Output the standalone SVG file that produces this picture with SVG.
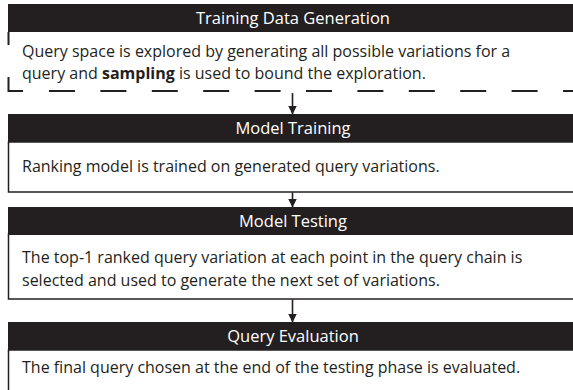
<svg xmlns="http://www.w3.org/2000/svg" width="573" height="390" viewBox="0 0 573 390">
<style>
.hdr{fill:#231f20}
.body{fill:#fff;stroke:#231f20;stroke-width:1.5}
.title{font-family:"Open Sans","Noto Sans",sans-serif;font-size:16.5px;fill:#fff;text-anchor:middle}
.txt{font-family:"Open Sans","Noto Sans",sans-serif;font-size:16px;fill:#231f20}
.edge{stroke:#231f20;stroke-width:1.6;fill:none}
.dash{stroke:#231f20;stroke-width:2;fill:none}
</style>
<defs>
<marker id="ah" markerWidth="9" markerHeight="10" refX="8.5" refY="4.5" orient="auto" markerUnits="userSpaceOnUse" viewBox="0 0 9 9">
<path d="M0,0 L9,4.5 L0,9 Z" fill="#231f20"/>
</marker>
</defs>
<rect width="573" height="390" fill="#fff"/>
<g id="n1">
<rect class="hdr" x="8" y="4" width="570" height="28"/>
<text class="title" x="293" y="24">Training Data Generation</text>
<path class="dash" d="M8.5,32 V45 M8.5,77 V91 H23"/>
<path class="dash" d="M49,91 H578" stroke-dasharray="26 25.4"/>
<text class="txt" x="22" y="57">Query space is explored by generating all possible variations for a</text>
<text class="txt" x="22" y="79">query and <tspan font-weight="bold">sampling</tspan> is used to bound the exploration.</text>
</g>
<g id="n2">
<rect class="body" x="8.5" y="142" width="570" height="50"/>
<rect class="hdr" x="8" y="114" width="570" height="28"/>
<text class="title" x="293" y="134">Model Training</text>
<text class="txt" x="22" y="172">Ranking model is trained on generated query variations.</text>
</g>
<g id="n3">
<rect class="body" x="8.5" y="234" width="570" height="65"/>
<rect class="hdr" x="8" y="207" width="570" height="28"/>
<text class="title" x="293" y="226.5">Model Testing</text>
<text class="txt" x="22" y="263">The top-1 ranked query variation at each point in the query chain is</text>
<text class="txt" x="22" y="286">selected and used to generate the next set of variations.</text>
</g>
<g id="n4">
<rect class="body" x="8.5" y="350" width="570" height="50"/>
<rect class="hdr" x="8" y="322" width="570" height="28"/>
<text class="title" x="293" y="341.5">Query Evaluation</text>
<text class="txt" x="22" y="373">The final query chosen at the end of the testing phase is evaluated.</text>
</g>
<g id="connectors">
<line class="edge" x1="292.5" y1="93" x2="292.5" y2="114" marker-end="url(#ah)"/>
<line class="edge" x1="292.5" y1="192.5" x2="292.5" y2="207" marker-end="url(#ah)"/>
<line class="edge" x1="292.5" y1="299.5" x2="292.5" y2="322" marker-end="url(#ah)"/>
</g>
</svg>
